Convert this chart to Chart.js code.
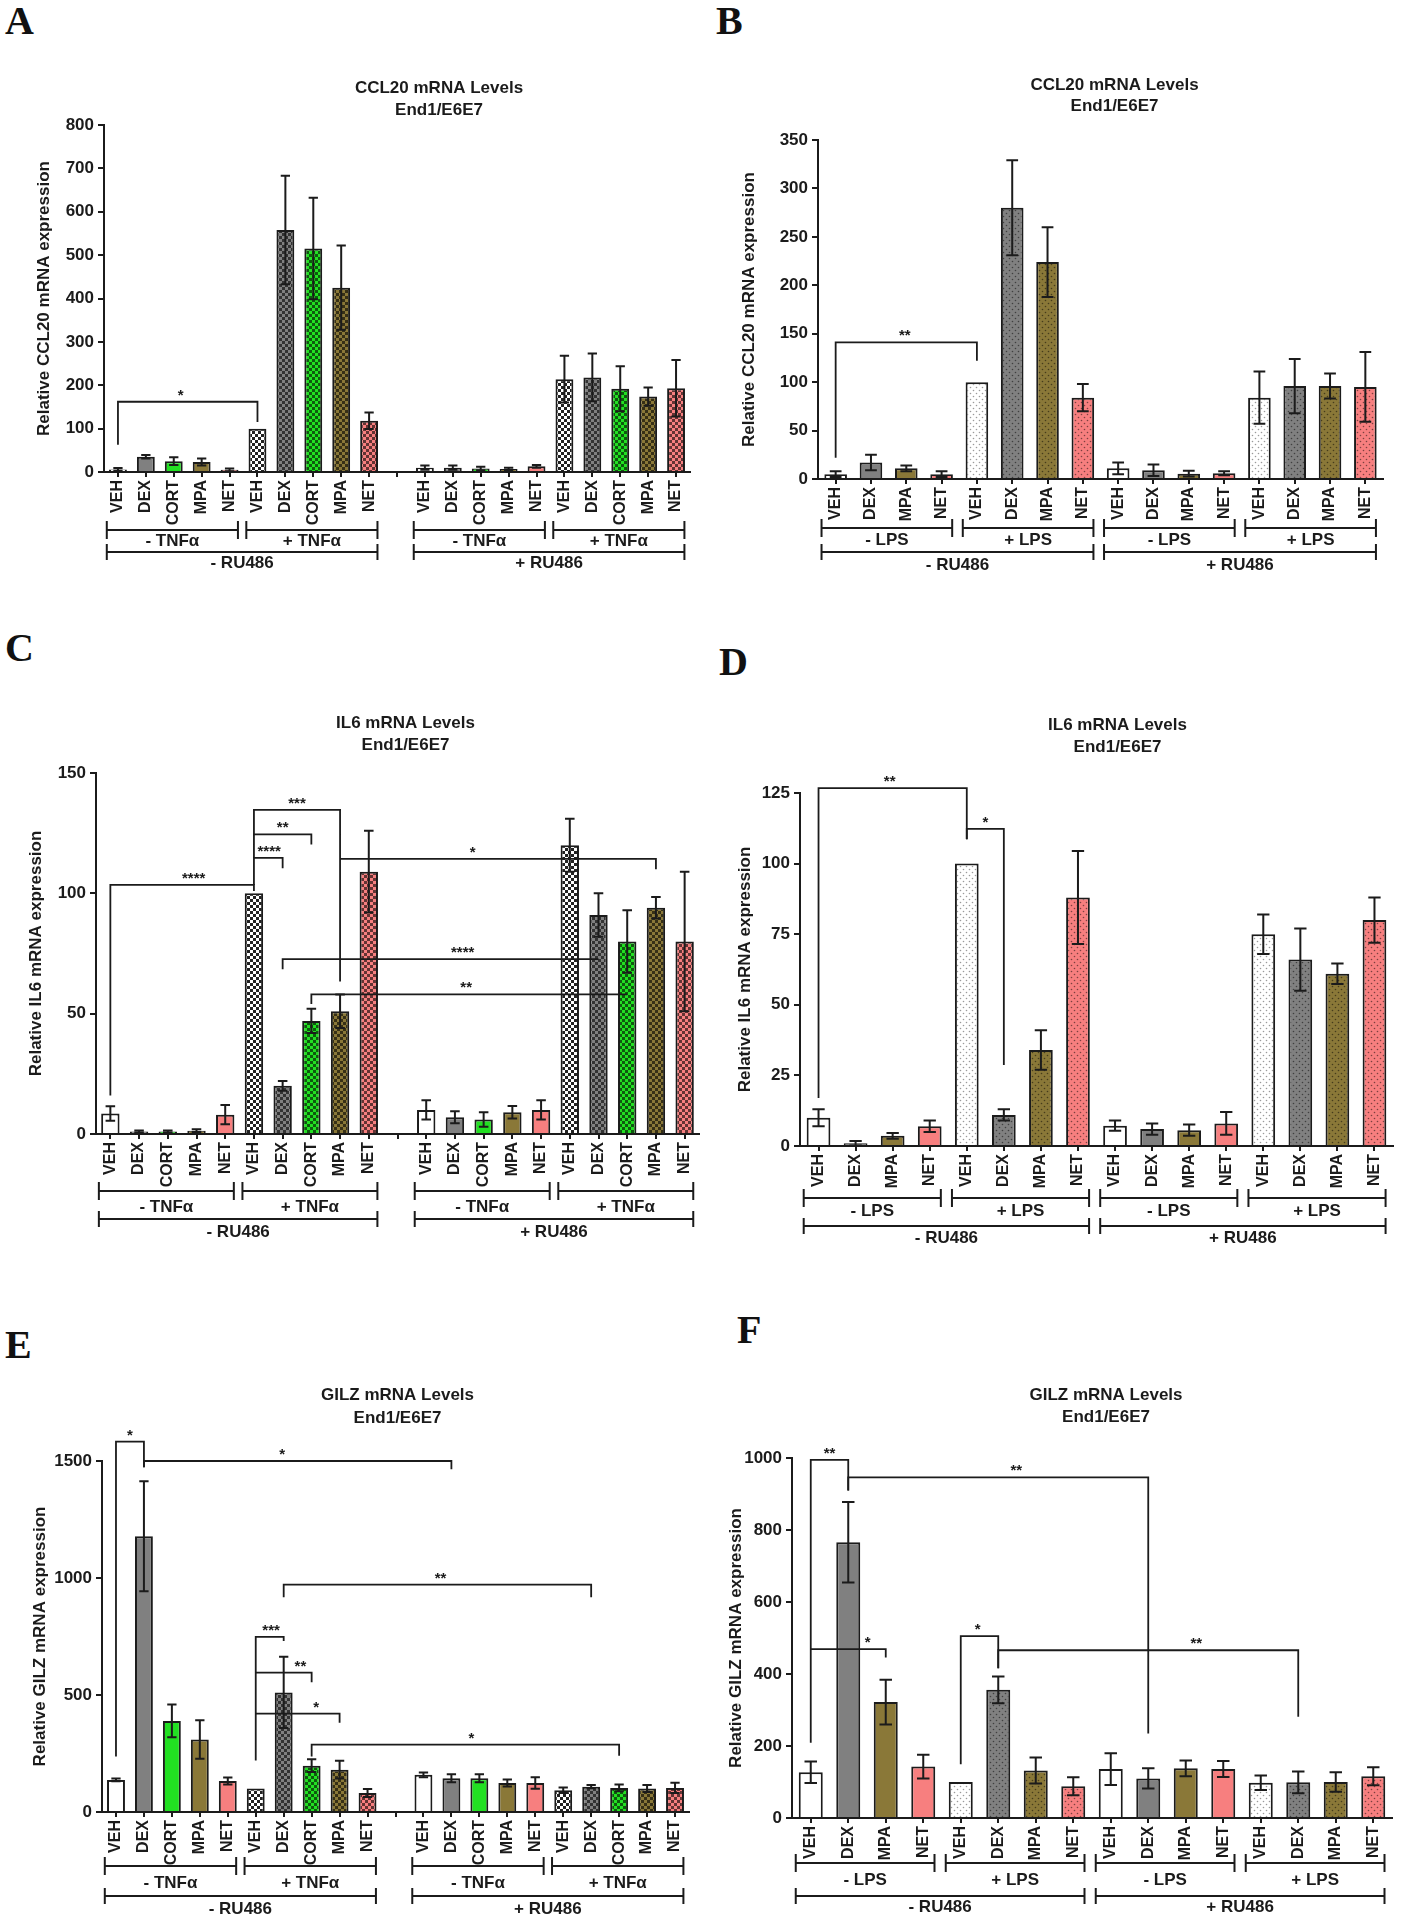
<!DOCTYPE html>
<html>
<head>
<meta charset="utf-8">
<script src="https://cdn.jsdelivr.net/npm/chart.js@4.4.1/dist/chart.umd.min.js"></script>
<style>
  html, body { margin: 0; padding: 0; background: #fff; }
  body { position: relative; width: 1413px; height: 1920px; overflow: hidden; }
  .panel { position: absolute; }
  .letter { position: absolute; font: bold 40px "Liberation Serif", "Times New Roman", serif; line-height: 1; color: #111; }
</style>
</head>
<body>
<script>
// categories
const drugsTnf = ["VEH", "DEX", "CORT", "MPA", "NET"];
const drugsLps = ["VEH", "DEX", "MPA", "NET"];
const labelsTnf = [...drugsTnf, ...drugsTnf, "", ...drugsTnf, ...drugsTnf];
const labelsLps = [...drugsLps, ...drugsLps, ...drugsLps, ...drugsLps];

// treatment groups under the axis: [first index, last index, label]
const groupsTnf = [[0, 4, "- TNFα"], [5, 9, "+ TNFα"], [11, 15, "- TNFα"], [16, 20, "+ TNFα"]];
const groupsLps = [[0, 3, "- LPS"], [4, 7, "+ LPS"], [8, 11, "- LPS"], [12, 15, "+ LPS"]];
const ruTnf = [[0, 9, "- RU486"], [11, 20, "+ RU486"]];
const ruLps = [[0, 7, "- RU486"], [8, 15, "+ RU486"]];

// y tick labels
const ticksA = [0, 100, 200, 300, 400, 500, 600, 700, 800];
const ticksB = [0, 50, 100, 150, 200, 250, 300, 350];
const ticksC = [0, 50, 100, 150];
const ticksD = [0, 25, 50, 75, 100, 125];
const ticksE = [0, 500, 1000, 1500];
const ticksF = [0, 200, 400, 600, 800, 1000];

// means and SEM
const ccl20TnfMean = [6, 35, 25, 23, 5, 100, 558, 515, 425, 118, null, 10, 10, 8, 7, 13, 214, 218, 192, 174, 193];
const ccl20TnfErr = [3, 4, 9, 8, 3, 0, 125, 117, 97, 19, null, 5, 5, 4, 3, 3, 54, 55, 52, 21, 65];
const ccl20LpsMean = [5, 17, 11, 5, 100, 280, 224, 84, 11, 9, 5.5, 6, 84, 96, 96, 95];
const ccl20LpsErr = [3, 8, 3, 3, 0, 49, 36, 14, 6, 6, 3, 2, 27, 28, 13, 36];
const il6TnfMean = [8.5, 1, 1, 1.4, 8, 100, 20, 47, 51, 109, null, 10, 7, 6, 9, 10, 120, 91, 80, 94, 80];
const il6TnfErr = [3, 0.5, 0.5, 0.6, 4, 0, 2, 5, 7, 17, null, 4, 2.5, 3, 2.6, 4, 11, 9, 13, 4.5, 29];
const il6LpsMean = [10, 1, 3.6, 7, 100, 11, 34, 88, 7.2, 6, 5.6, 8, 75, 66, 61, 80];
const il6LpsErr = [3, 0.8, 1, 2, 0, 2, 7, 16.5, 1.8, 2, 2, 4, 7, 11, 3.6, 8];
const gilzTnfMean = [137, 1178, 389, 310, 132, 100, 511, 198, 181, 81, null, 159, 144, 144, 124, 124, 93, 108, 103, 100, 103];
const gilzTnfErr = [6, 235, 70, 82, 15, 0, 152, 27, 38, 17, null, 10, 17, 17, 15, 25, 12, 7, 14, 15, 22];
const gilzLpsMean = [127, 766, 322, 143, 100, 356, 132, 88, 136, 110, 138, 136, 98, 99, 100, 116];
const gilzLpsErr = [30, 112, 62, 33, 0, 37, 36, 25, 44, 28, 22, 22, 20, 30, 27, 25];

// significance brackets: [from, to, line value, left leg end, right leg end, stars, label position]
const sigA = [[0, 5, 162, 63, 115, "*", 0.45]];
const sigB = [[0, 4, 141, 22, 122, "**", 0.49]];
const sigC = [
  [0, 5, 103.5, 16, 101, "****", 0.58],
  [5, 6, 114.7, 103.5, 110.4, "****", 0.53],
  [5, 7, 124.5, 114.7, 120.3, "**", 0.5],
  [5, 8, 134.7, 124.5, 63.4, "***", 0.5],
  [8, 19, 114.3, 114.3, 110, "*", 0.42],
  [6, 17, 72.7, 68.5, 72.7, "****", 0.57],
  [7, 18, 58, 54, 58, "**", 0.49],
];
const sigD = [[0, 4, 126.7, 17, 108.6, "**", 0.48], [4, 5, 112.3, 108.6, 28.7, "*", 0.5]];
const sigE = [
  [0, 1, 1583, 237, 1473, "*", 0.5],
  [1, 12, 1500, 1473, 1465, "*", 0.45],
  [6, 17, 972, 918, 918, "**", 0.51],
  [5, 6, 748, 220, 731, "***", 0.55],
  [5, 7, 596, 596, 555, "**", 0.8],
  [5, 8, 420, 420, 381, "*", 0.72],
  [7, 18, 288, 237, 240, "*", 0.52],
];
const sigF = [
  [0, 1, 995, 209, 910, "**", 0.5],
  [1, 9, 946, 910, 235, "**", 0.56],
  [0, 2, 469, 469, 446, "*", 0.76],
  [4, 5, 505, 149, 416, "*", 0.45],
  [5, 13, 466, 416, 281, "**", 0.66],
];

const INK = "#1b1b1b";
const FONT = '"Liberation Sans", Arial, Helvetica, sans-serif';
const drugColors = { VEH: "#ffffff", DEX: "#808080", CORT: "#22e022", MPA: "#8a7838", NET: "#f77f7f" };

function shade(hex, f) {
  const n = parseInt(hex.slice(1), 16);
  const r = Math.round(((n >> 16) & 255) * f), g = Math.round(((n >> 8) & 255) * f), b = Math.round((n & 255) * f);
  return `rgb(${r},${g},${b})`;
}

function checker(base) {
  const c = document.createElement("canvas");
  c.width = c.height = 6;
  const g = c.getContext("2d");
  g.fillStyle = base; g.fillRect(0, 0, 6, 6);
  g.fillStyle = base === "#ffffff" ? "#222" : shade(base, 0.4);
  g.fillRect(0, 0, 3, 3); g.fillRect(3, 3, 3, 3);
  return g.createPattern(c, "repeat");
}

function dotted(base) {
  const c = document.createElement("canvas");
  c.width = c.height = 6;
  const g = c.getContext("2d");
  g.fillStyle = base; g.fillRect(0, 0, 6, 6);
  g.fillStyle = base === "#ffffff" ? "#9a9a9a" : shade(base, 0.5);
  g.beginPath(); g.arc(1.5, 1.5, 0.8, 0, 7); g.arc(4.5, 4.5, 0.8, 0, 7); g.fill();
  return g.createPattern(c, "repeat");
}

const panels = [
  { letter: "A", letterAt: [5, 1], title: ["CCL20 mRNA Levels", "End1/E6E7"], yTitle: "Relative CCL20 mRNA expression",
    labels: labelsTnf, mean: ccl20TnfMean, err: ccl20TnfErr, ticks: ticksA, inner: groupsTnf, outer: ruTnf, sig: sigA, fill: checker,
    area: [104, 125, 690, 472], yW: 70, titleDx: 42, titleDy: [37, 15], rows: [58, 69, 80, 91] },
  { letter: "B", letterAt: [716, 1], title: ["CCL20 mRNA Levels", "End1/E6E7"], yTitle: "Relative CCL20 mRNA expression",
    labels: labelsLps, mean: ccl20LpsMean, err: ccl20LpsErr, ticks: ticksB, inner: groupsLps, outer: ruLps, sig: sigB, fill: dotted,
    area: [818, 140, 1383, 479], yW: 79, titleDx: 14, titleDy: [55, 34], rows: [49, 61, 73, 86] },
  { letter: "C", letterAt: [5, 628], title: ["IL6 mRNA Levels", "End1/E6E7"], yTitle: "Relative IL6 mRNA expression",
    labels: labelsTnf, mean: il6TnfMean, err: il6TnfErr, ticks: ticksC, inner: groupsTnf, outer: ruTnf, sig: sigC, fill: checker,
    area: [96, 773, 699, 1134], yW: 70, titleDx: 8, titleDy: [50, 28], rows: [57, 73, 85, 98] },
  { letter: "D", letterAt: [719, 642], title: ["IL6 mRNA Levels", "End1/E6E7"], yTitle: "Relative IL6 mRNA expression",
    labels: labelsLps, mean: il6LpsMean, err: il6LpsErr, ticks: ticksD, inner: groupsLps, outer: ruLps, sig: sigD, fill: dotted,
    area: [800, 793, 1393, 1146], yW: 65, titleDx: 21, titleDy: [68, 46], rows: [52, 65, 80, 92] },
  { letter: "E", letterAt: [5, 1325], title: ["GILZ mRNA Levels", "End1/E6E7"], yTitle: "Relative GILZ mRNA expression",
    labels: labelsTnf, mean: gilzTnfMean, err: gilzTnfErr, ticks: ticksE, inner: groupsTnf, outer: ruTnf, sig: sigE, fill: checker,
    area: [102, 1461, 689, 1812], yW: 72, titleDx: 2, titleDy: [66, 43], rows: [54, 71, 84, 97] },
  { letter: "F", letterAt: [737, 1310], title: ["GILZ mRNA Levels", "End1/E6E7"], yTitle: "Relative GILZ mRNA expression",
    labels: labelsLps, mean: gilzLpsMean, err: gilzLpsErr, ticks: ticksF, inner: groupsLps, outer: ruLps, sig: sigF, fill: dotted,
    area: [792, 1458, 1392, 1818], yW: 66, titleDx: 14, titleDy: [63, 41], rows: [45, 62, 78, 89] },
];

function stimulated(groups, i) {
  return groups.some(([a, b, label]) => i >= a && i <= b && label.startsWith("+"));
}

function decor(p) {
  return {
    id: "decor",
    afterDatasetsDraw(chart) {
      const ctx = chart.ctx, y = chart.scales.y;
      const bars = chart.getDatasetMeta(0).data;
      ctx.save();
      ctx.strokeStyle = INK; ctx.lineWidth = 2;
      p.mean.forEach((m, i) => {
        const e = p.err[i];
        if (m == null || !e) return;
        const bar = bars[i], cap = bar.width * 0.26;
        const top = y.getPixelForValue(m + e), bot = y.getPixelForValue(Math.max(0, m - e));
        ctx.beginPath();
        ctx.moveTo(bar.x, bot); ctx.lineTo(bar.x, top);
        ctx.moveTo(bar.x - cap, top); ctx.lineTo(bar.x + cap, top);
        if (m - e > 0) { ctx.moveTo(bar.x - cap, bot); ctx.lineTo(bar.x + cap, bot); }
        ctx.stroke();
      });
      ctx.restore();
    },
    afterDraw(chart) {
      const ctx = chart.ctx, x = chart.scales.x, y = chart.scales.y, area = chart.chartArea;
      const step = x.getPixelForValue(1) - x.getPixelForValue(0);
      ctx.save();
      ctx.strokeStyle = INK; ctx.fillStyle = INK; ctx.lineWidth = 2;
      ctx.textAlign = "center";

      // title
      ctx.font = `bold 17px ${FONT}`;
      ctx.textBaseline = "middle";
      const cx = (area.left + area.right) / 2 + p.titleDx;
      ctx.fillText(p.title[0], cx, area.top - p.titleDy[0]);
      ctx.fillText(p.title[1], cx, area.top - p.titleDy[1]);

      // significance brackets
      ctx.font = `bold 15px ${FONT}`;
      ctx.textBaseline = "alphabetic";
      ctx.lineWidth = 1.8;
      p.sig.forEach(([a, b, v, l, r, stars, at]) => {
        const xa = x.getPixelForValue(a), xb = x.getPixelForValue(b), yy = y.getPixelForValue(v);
        ctx.beginPath();
        ctx.moveTo(xa, y.getPixelForValue(l)); ctx.lineTo(xa, yy);
        ctx.lineTo(xb, yy); ctx.lineTo(xb, y.getPixelForValue(r));
        ctx.stroke();
        ctx.fillText(stars, xa + (xb - xa) * at, yy - 2);
      });

      // treatment groups under the axis
      ctx.lineWidth = 2;
      ctx.font = `bold 17px ${FONT}`;
      ctx.textBaseline = "middle";
      const rows = [[p.inner, p.rows[0], p.rows[1], 9], [p.outer, p.rows[2], p.rows[3], 8]];
      rows.forEach(([groups, lineOff, textOff, capH]) => {
        groups.forEach(([a, b, label]) => {
          const l = x.getPixelForValue(a) - 0.4 * step, r = x.getPixelForValue(b) + 0.3 * step;
          const yy = area.bottom + lineOff;
          ctx.beginPath();
          ctx.moveTo(l, yy); ctx.lineTo(r, yy);
          ctx.moveTo(l, yy - capH); ctx.lineTo(l, yy + capH);
          ctx.moveTo(r, yy - capH); ctx.lineTo(r, yy + capH);
          ctx.stroke();
          ctx.fillText(label, (l + r) / 2, area.bottom + textOff);
        });
      });
      ctx.restore();
    },
  };
}

function makePanel(p) {
  const letter = document.createElement("div");
  letter.className = "letter";
  letter.textContent = p.letter;
  letter.style.left = p.letterAt[0] + "px";
  letter.style.top = p.letterAt[1] + "px";
  document.body.appendChild(letter);

  const div = document.createElement("div");
  div.className = "panel";
  document.body.appendChild(div);
  const canvas = document.createElement("canvas");
  div.appendChild(canvas);

  const [x0, y0, x1, y1] = p.area;
  const pad = { left: 4, right: 14, top: 90, bottom: 56 };
  const xH = 64;
  let W = (x1 - x0) + p.yW + pad.left + pad.right;
  let H = (y1 - y0) + pad.top + xH + pad.bottom;
  div.style.width = W + "px";
  div.style.height = H + "px";

  const fills = p.labels.map((lab, i) => {
    const base = drugColors[lab] || "#ffffff";
    return stimulated(p.inner, i) ? p.fill(base) : base;
  });
  const tickFont = { family: FONT, size: 16, weight: "bold" };

  const chart = new Chart(canvas, {
    type: "bar",
    data: {
      labels: p.labels,
      datasets: [{
        data: p.mean,
        backgroundColor: fills,
        borderColor: INK,
        borderWidth: 2,
        barPercentage: 0.64,
        categoryPercentage: 1,
      }],
    },
    options: {
      responsive: true,
      maintainAspectRatio: false,
      animation: false,
      layout: { padding: pad },
      plugins: { legend: { display: false }, tooltip: { enabled: false } },
      scales: {
        x: {
          grid: { drawOnChartArea: false, drawTicks: true, tickLength: 5, offset: false, color: INK, lineWidth: 2 },
          border: { color: INK, width: 2 },
          ticks: { autoSkip: false, minRotation: 90, maxRotation: 90, color: INK, font: tickFont, padding: 3 },
          afterFit: (s) => { s.height = xH; },
        },
        y: {
          min: p.ticks[0],
          max: p.ticks[p.ticks.length - 1],
          ticks: { stepSize: p.ticks[1] - p.ticks[0], color: INK, font: { family: FONT, size: 17, weight: "bold" }, padding: 4, callback: (v) => String(v) },
          grid: { drawOnChartArea: false, tickLength: 6, color: INK, lineWidth: 2 },
          border: { color: INK, width: 2 },
          title: { display: true, text: p.yTitle, color: INK, font: { family: FONT, size: 17, weight: "bold" }, padding: 0 },
          afterFit: (s) => { s.width = p.yW; },
        },
      },
    },
    plugins: [decor(p)],
  });

  // size the canvas so the plot area lands where the reference has it
  let a = chart.chartArea;
  W += (x1 - x0) - (a.right - a.left);
  H += (y1 - y0) - (a.bottom - a.top);
  div.style.width = W + "px";
  div.style.height = H + "px";
  chart.resize();
  a = chart.chartArea;
  div.style.left = (x0 - a.left) + "px";
  div.style.top = (y0 - a.top) + "px";
}

panels.forEach(makePanel);
</script>
</body>
</html>
